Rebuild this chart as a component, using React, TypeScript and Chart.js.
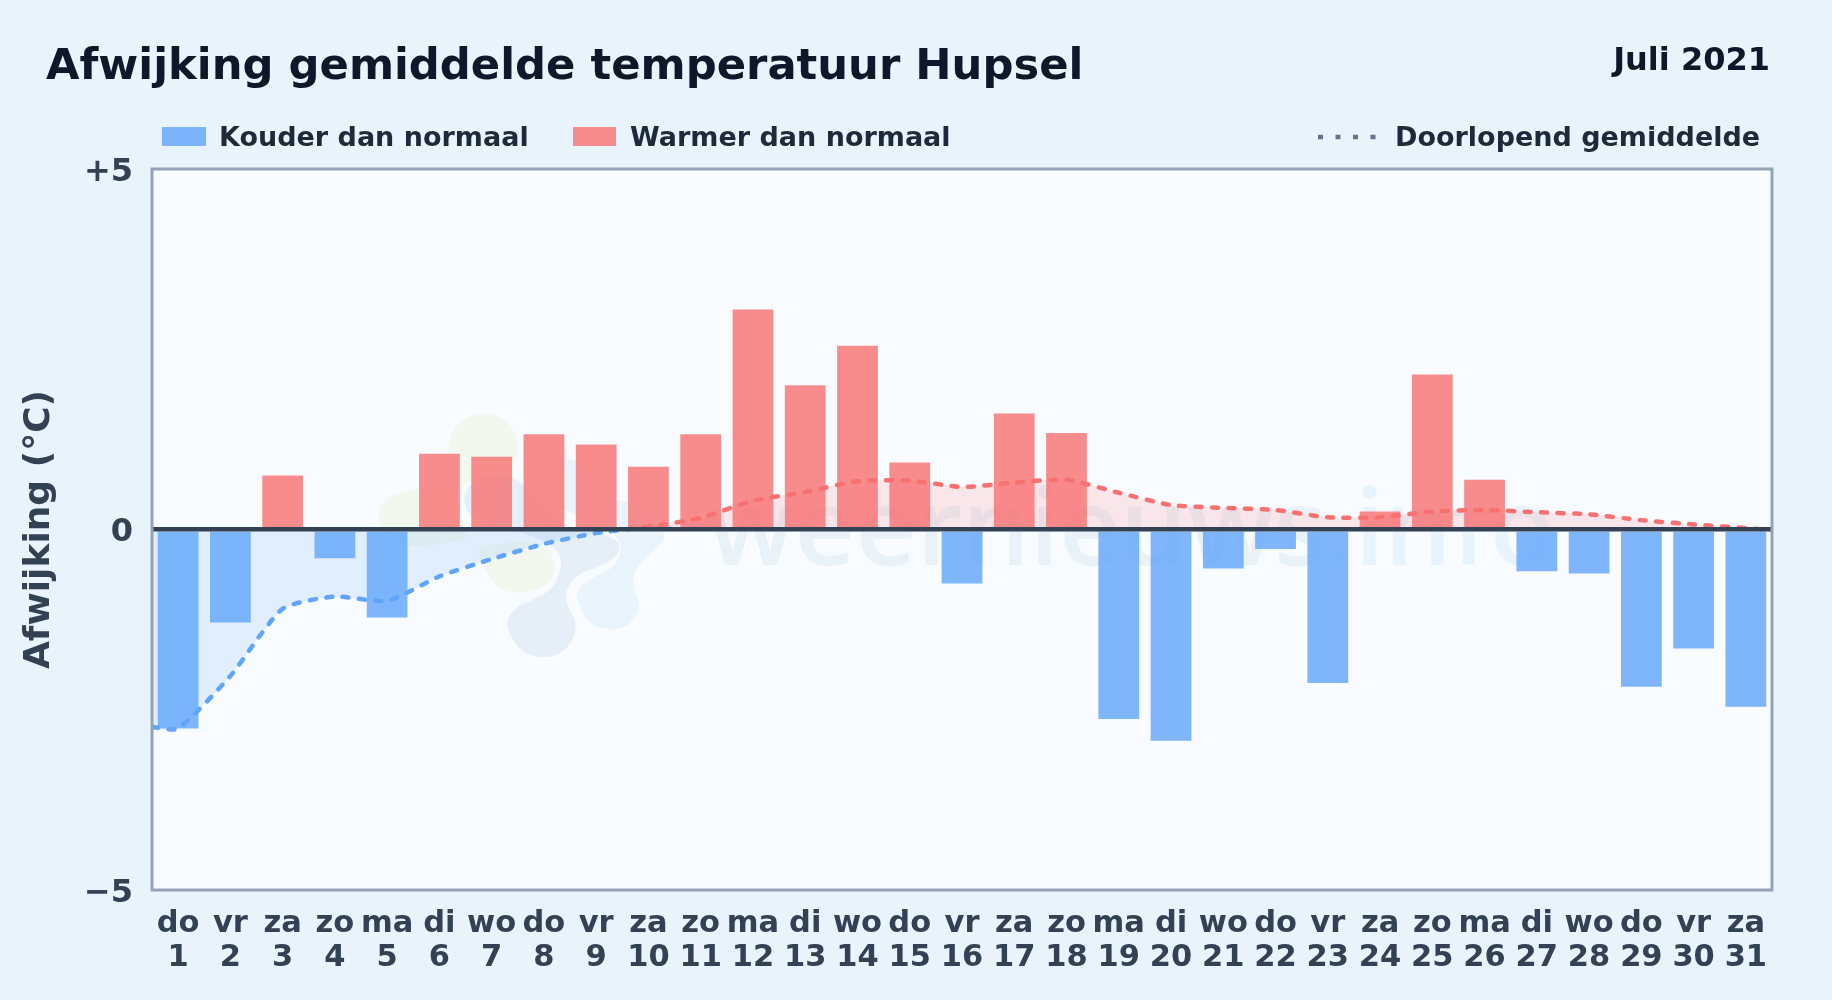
import React, { useEffect, useRef } from "react";
import { Chart, registerables } from "chart.js";

Chart.register(...registerables);

const weekdays = ["do","vr","za","zo","ma","di","wo","do","vr","za","zo","ma","di","wo","do","vr","za","zo","ma","di","wo","do","vr","za","zo","ma","di","wo","do","vr","za"];
const days = [1,2,3,4,5,6,7,8,9,10,11,12,13,14,15,16,17,18,19,20,21,22,23,24,25,26,27,28,29,30,31];
const deviation = [-2.76,-1.29,0.75,-0.40,-1.22,1.05,1.01,1.32,1.18,0.87,1.32,3.05,2.0,2.55,0.93,-0.75,1.61,1.34,-2.63,-2.93,-0.54,-0.27,-2.13,0.25,2.15,0.69,-0.58,-0.61,-2.18,-1.65,-2.46];
const runningMeanDays = [0.5,1,2,3,4,5,6,7,8,9,10,11,12,13,14,15,16,17,18,19,20,21,22,23,24,25,26,27,28,29,30,31,31.5];
const runningMean = [-2.74,-2.76,-2.03,-1.10,-0.93,-0.99,-0.65,-0.41,-0.20,-0.05,0.04,0.16,0.40,0.52,0.67,0.68,0.59,0.65,0.69,0.51,0.34,0.30,0.27,0.17,0.17,0.25,0.27,0.24,0.21,0.13,0.07,0.02,-0.01];
const yTicks: Record<string, string> = { "5": "+5", "0": "0", "-5": "\u22125" };

const titleText = "Afwijking gemiddelde temperatuur Hupsel";
const monthText = "Juli 2021";
const yTitle = "Afwijking (\u00b0C)";
const coldLabel = "Kouder dan normaal";
const warmLabel = "Warmer dan normaal";
const lineLabel = "Doorlopend gemiddelde";
const brandMain = "weernieuws";
const brandEnd = ".info";

const FONT = '"DejaVu Sans", sans-serif';
const PAGE_BG = "#e8f3fc";
const PLOT_BG = "#f8fbff";
const COLD = "rgba(96,165,250,0.8)";
const WARM = "rgba(248,113,113,0.8)";

// Faint logo blobs behind the plot (decoration, not data)
const BLOB_GREEN_A = [[300,60],[370,35],[445,60],[478,130],[465,195],[400,225],[320,245],[300,270],[180,262],[85,285],[50,340],[70,405],[150,442],[260,430],[330,420],[300,350],[280,250],[258,130]];
const BLOB_GREEN_B = [[345,440],[420,430],[540,420],[588,480],[575,555],[480,585],[405,562],[372,500]];
const BLOB_GRAY = [[305,280],[360,228],[450,222],[510,270],[560,330],[620,385],[775,410],[780,462],[720,502],[650,520],[605,590],[660,680],[605,772],[495,772],[432,680],[465,618],[570,580],[610,500],[590,440],[500,400],[400,380],[325,350]];
const BLOB_BLUE = [[540,230],[600,172],[680,190],[700,280],[720,300],[800,300],[880,350],[925,410],[880,450],[820,510],[820,560],[845,630],[790,692],[700,684],[656,620],[648,570],[700,530],[770,500],[790,430],[730,370],[640,340],[560,310]];

function blob(ctx: CanvasRenderingContext2D, pts: number[][], color: string) {
  const mapped = pts.map(([x, y]) => [360 + x / 3, 400 + y / 3]);
  const n = mapped.length;
  ctx.beginPath();
  ctx.moveTo((mapped[n - 1][0] + mapped[0][0]) / 2, (mapped[n - 1][1] + mapped[0][1]) / 2);
  for (let i = 0; i < n; i++) {
    const p = mapped[i], q = mapped[(i + 1) % n];
    ctx.quadraticCurveTo(p[0], p[1], (p[0] + q[0]) / 2, (p[1] + q[1]) / 2);
  }
  ctx.closePath();
  ctx.fillStyle = color;
  ctx.fill();
}

const backdropPlugin = {
  id: "backdrop",
  beforeDraw(chart: any) {
    const { ctx, chartArea: a } = chart;
    ctx.save();
    ctx.fillStyle = PLOT_BG;
    ctx.fillRect(a.left, a.top, a.right - a.left, a.bottom - a.top);
    blob(ctx, BLOB_GREEN_A, "#f3f8ef");
    blob(ctx, BLOB_GREEN_B, "#f3f8ef");
    blob(ctx, BLOB_BLUE, "#e9f4fd");
    blob(ctx, BLOB_GRAY, "#e6eff7");
    ctx.textBaseline = "alphabetic";
    ctx.textAlign = "left";
    ctx.font = '600 106px "Open Sans", sans-serif';
    ctx.fillStyle = "#e9f1f9";
    ctx.fillText(brandMain, 708, 565);
    const w = ctx.measureText(brandMain).width;
    ctx.fillStyle = "#e8f4fd";
    ctx.fillText(brandEnd, 708 + w, 565);
    ctx.restore();
  },
};

const frameTextPlugin = {
  id: "frameText",
  afterDraw(chart: any) {
    const { ctx, chartArea: a } = chart;
    ctx.save();
    ctx.strokeStyle = "#94a3b8";
    ctx.lineWidth = 3;
    ctx.strokeRect(a.left, a.top, a.right - a.left, a.bottom - a.top);

    ctx.textBaseline = "alphabetic";
    ctx.textAlign = "left";
    ctx.fillStyle = "#0f172a";
    ctx.font = `bold 43.3px ${FONT}`;
    ctx.fillText(titleText, 46, 79);
    ctx.textAlign = "right";
    ctx.font = `bold 32px ${FONT}`;
    ctx.fillText(monthText, 1770, 70);

    ctx.fillStyle = COLD;
    ctx.fillRect(162, 127, 44, 19);
    ctx.fillStyle = WARM;
    ctx.fillRect(573, 127, 43, 19);
    ctx.strokeStyle = "#64748b";
    ctx.lineWidth = 4.5;
    ctx.setLineDash([5, 12.5]);
    ctx.beginPath();
    ctx.moveTo(1318, 137);
    ctx.lineTo(1376, 137);
    ctx.stroke();
    ctx.setLineDash([]);

    ctx.fillStyle = "#1e293b";
    ctx.font = `bold 27px ${FONT}`;
    ctx.textAlign = "left";
    ctx.fillText(coldLabel, 219, 146);
    ctx.fillText(warmLabel, 630, 146);
    ctx.fillText(lineLabel, 1395, 146);
    ctx.restore();
  },
};

export default function App() {
  const ref = useRef<HTMLCanvasElement>(null);
  useEffect(() => {
    const gradient = (chart: any, below: string, above: string) => {
      const { chartArea: a, scales, ctx } = chart;
      if (!a) return above;
      const zero = scales.y.getPixelForValue(0);
      const g = ctx.createLinearGradient(0, a.top, 0, a.bottom);
      const stop = (zero - a.top) / (a.bottom - a.top);
      g.addColorStop(0, above);
      g.addColorStop(stop, above);
      g.addColorStop(stop, below);
      g.addColorStop(1, below);
      return g;
    };
    const chart = new Chart(ref.current as HTMLCanvasElement, {
      type: "bar",
      plugins: [backdropPlugin, frameTextPlugin],
      data: {
        datasets: [
          {
            type: "line",
            label: lineLabel,
            data: runningMeanDays.map((x, i) => ({ x, y: runningMean[i] })),
            borderColor: (c: any) => gradient(c.chart, "#60a5fa", "#f87171"),
            borderWidth: 4.5,
            borderDash: [6, 10.5],
            borderCapStyle: "round",
            tension: 0.2,
            pointRadius: 0,
            fill: { target: { value: 0 }, above: "rgba(248,113,113,0.15)", below: "rgba(96,165,250,0.15)" },
            order: 0,
          },
          {
            type: "bar",
            label: coldLabel,
            data: days.map((x, i) => ({ x, y: deviation[i] })).filter((p) => p.y < 0),
            backgroundColor: COLD,
            grouped: false,
            barPercentage: 0.78,
            categoryPercentage: 1,
            order: 1,
          },
          {
            type: "bar",
            label: warmLabel,
            data: days.map((x, i) => ({ x, y: deviation[i] })).filter((p) => p.y >= 0),
            backgroundColor: WARM,
            grouped: false,
            barPercentage: 0.78,
            categoryPercentage: 1,
            order: 1,
          },
        ] as any,
      },
      options: {
        animation: false,
        responsive: false,
        layout: { padding: { top: 169, right: 60, left: 0, bottom: 0 } },
        plugins: {
          legend: { display: false },
          title: { display: false },
          tooltip: { enabled: false },
          filler: { drawTime: "beforeDatasetsDraw" },
        },
        scales: {
          x: {
            type: "linear",
            min: 0.5,
            max: 31.5,
            offset: false,
            grid: { display: false },
            border: { display: false },
            afterFit: (s: any) => { s.height = 110; },
            afterBuildTicks: (s: any) => { s.ticks = days.map((value) => ({ value })); },
            ticks: {
              autoSkip: false,
              maxRotation: 0,
              padding: 9,
              color: "#334155",
              font: { family: FONT, weight: "bold", size: 30.5, lineHeight: 1.12 },
              callback: (v: any) => [weekdays[v - 1], String(days[v - 1])],
            },
          },
          y: {
            min: -5,
            max: 5,
            border: { display: false },
            afterFit: (s: any) => { s.width = 152; },
            grid: {
              z: 1,
              drawTicks: false,
              color: (c: any) => (c.tick && c.tick.value === 0 ? "#334155" : "rgba(0,0,0,0)"),
              lineWidth: (c: any) => (c.tick && c.tick.value === 0 ? 4.5 : 0),
            },
            ticks: {
              stepSize: 5,
              padding: 19,
              labelOffset: 3.5,
              color: "#334155",
              font: { family: FONT, weight: "bold", size: 32 },
              callback: (v: any) => yTicks[String(v)] ?? "",
            },
            title: {
              display: true,
              text: yTitle,
              color: "#334155",
              font: { family: FONT, weight: "bold", size: 36 },
              padding: { top: 18, bottom: 0 },
            },
          },
        },
      } as any,
    });
    return () => chart.destroy();
  }, []);
  return (
    <div style={{ position: "fixed", left: 0, top: 0, width: 1832, height: 1000, background: PAGE_BG }}>
      <canvas ref={ref} width={1832} height={1000} style={{ display: "block", width: 1832, height: 1000 }} />
    </div>
  );
}
